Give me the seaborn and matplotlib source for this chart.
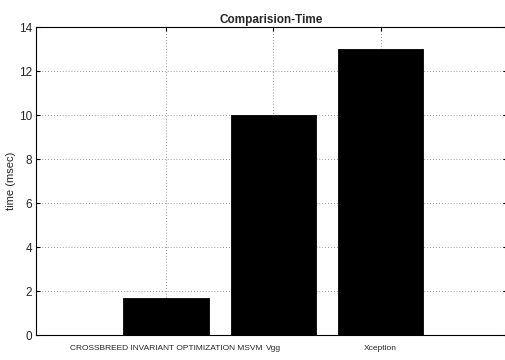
import matplotlib
matplotlib.use("Agg")
import matplotlib.pyplot as plt
import seaborn as sns
import pandas as pd

categories = ["CROSSBREED INVARIANT OPTIMIZATION MSVM", "Vgg", "Xception"]
values = [1.7, 10, 13]
yticks = [0, 2, 4, 6, 8, 10, 12, 14]

sns.set_style("white")
plt.rcParams["font.family"] = ["Liberation Sans", "DejaVu Sans"]

df = pd.DataFrame({"cat": categories, "val": values})

fig = plt.figure(figsize=(5.06, 3.6), dpi=100)
ax = fig.add_axes([36/506, 25/360, 1.0 - 36/506 + 0.002, (335-27)/360])
sns.barplot(data=df, x="cat", y="val", color="black", width=0.8,
            saturation=1, ax=ax, edgecolor="black", linewidth=0.6)
ax.set_xlim(-1.215, 3.18)
ax.set_ylim(0, 14)
ax.set_yticks(yticks)
ax.set_xlabel("")
ax.set_ylabel("time (msec)", fontsize=8, labelpad=2)
ax.set_title("Comparision-Time", fontsize=8.5, fontweight="bold", pad=3)
ax.grid(True, linestyle=(0, (1, 2.5)), color="#777777", linewidth=0.6)
ax.set_axisbelow(True)
for s in ax.spines.values():
    s.set_visible(True)
    s.set_color("black")
    s.set_linewidth(0.8)
ax.tick_params(axis="both", direction="in", length=3,
               top=True, right=True, bottom=True, left=True, color="black")
ax.tick_params(axis="y", labelsize=8.5, pad=3)
ax.tick_params(axis="x", labelsize=6.0, pad=7)
plt.savefig("out.png", dpi=100)
